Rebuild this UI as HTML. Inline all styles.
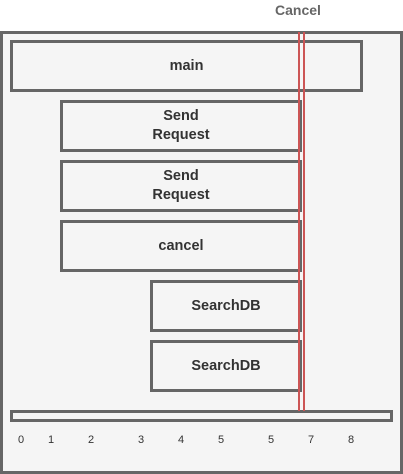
<!DOCTYPE html>
<html><head><style>
body{margin:0;width:403px;height:474px;background:#fff;position:relative;font-family:"Liberation Sans",Arial,sans-serif;overflow:hidden}
.b{position:absolute;box-sizing:border-box;border:3px solid #666;background:#f5f5f5;display:flex;align-items:center;justify-content:center;text-align:center;font-weight:bold;font-size:14.5px;color:#333;line-height:19px}
.n{position:absolute;top:434px;font-size:11px;color:#333;width:20px;margin-left:-10px;text-align:center}
.r{position:absolute;top:32px;height:379px;width:2px;background:#c55}
</style></head><body>
<div style="position:absolute;left:275px;top:2px;font-weight:bold;font-size:14px;color:#666">Cancel</div>
<div class="b" style="left:0;top:31px;width:403px;height:443px"></div>
<div class="b" style="left:10px;top:40px;width:353px;height:52px">main</div>
<div class="b" style="left:60px;top:100px;width:242px;height:52px">Send<br>Request</div>
<div class="b" style="left:60px;top:160px;width:242px;height:52px">Send<br>Request</div>
<div class="b" style="left:60px;top:220px;width:242px;height:52px">cancel</div>
<div class="b" style="left:150px;top:280px;width:152px;height:52px">SearchDB</div>
<div class="b" style="left:150px;top:340px;width:152px;height:52px">SearchDB</div>
<div class="b" style="left:10px;top:410px;width:383px;height:12px"></div>
<div class="r" style="left:298px"></div>
<div class="r" style="left:303px"></div>
<div class="n" style="left:21px">0</div>
<div class="n" style="left:51px">1</div>
<div class="n" style="left:91px">2</div>
<div class="n" style="left:141px">3</div>
<div class="n" style="left:181px">4</div>
<div class="n" style="left:221px">5</div>
<div class="n" style="left:271px">5</div>
<div class="n" style="left:311px">7</div>
<div class="n" style="left:351px">8</div>
</body></html>
